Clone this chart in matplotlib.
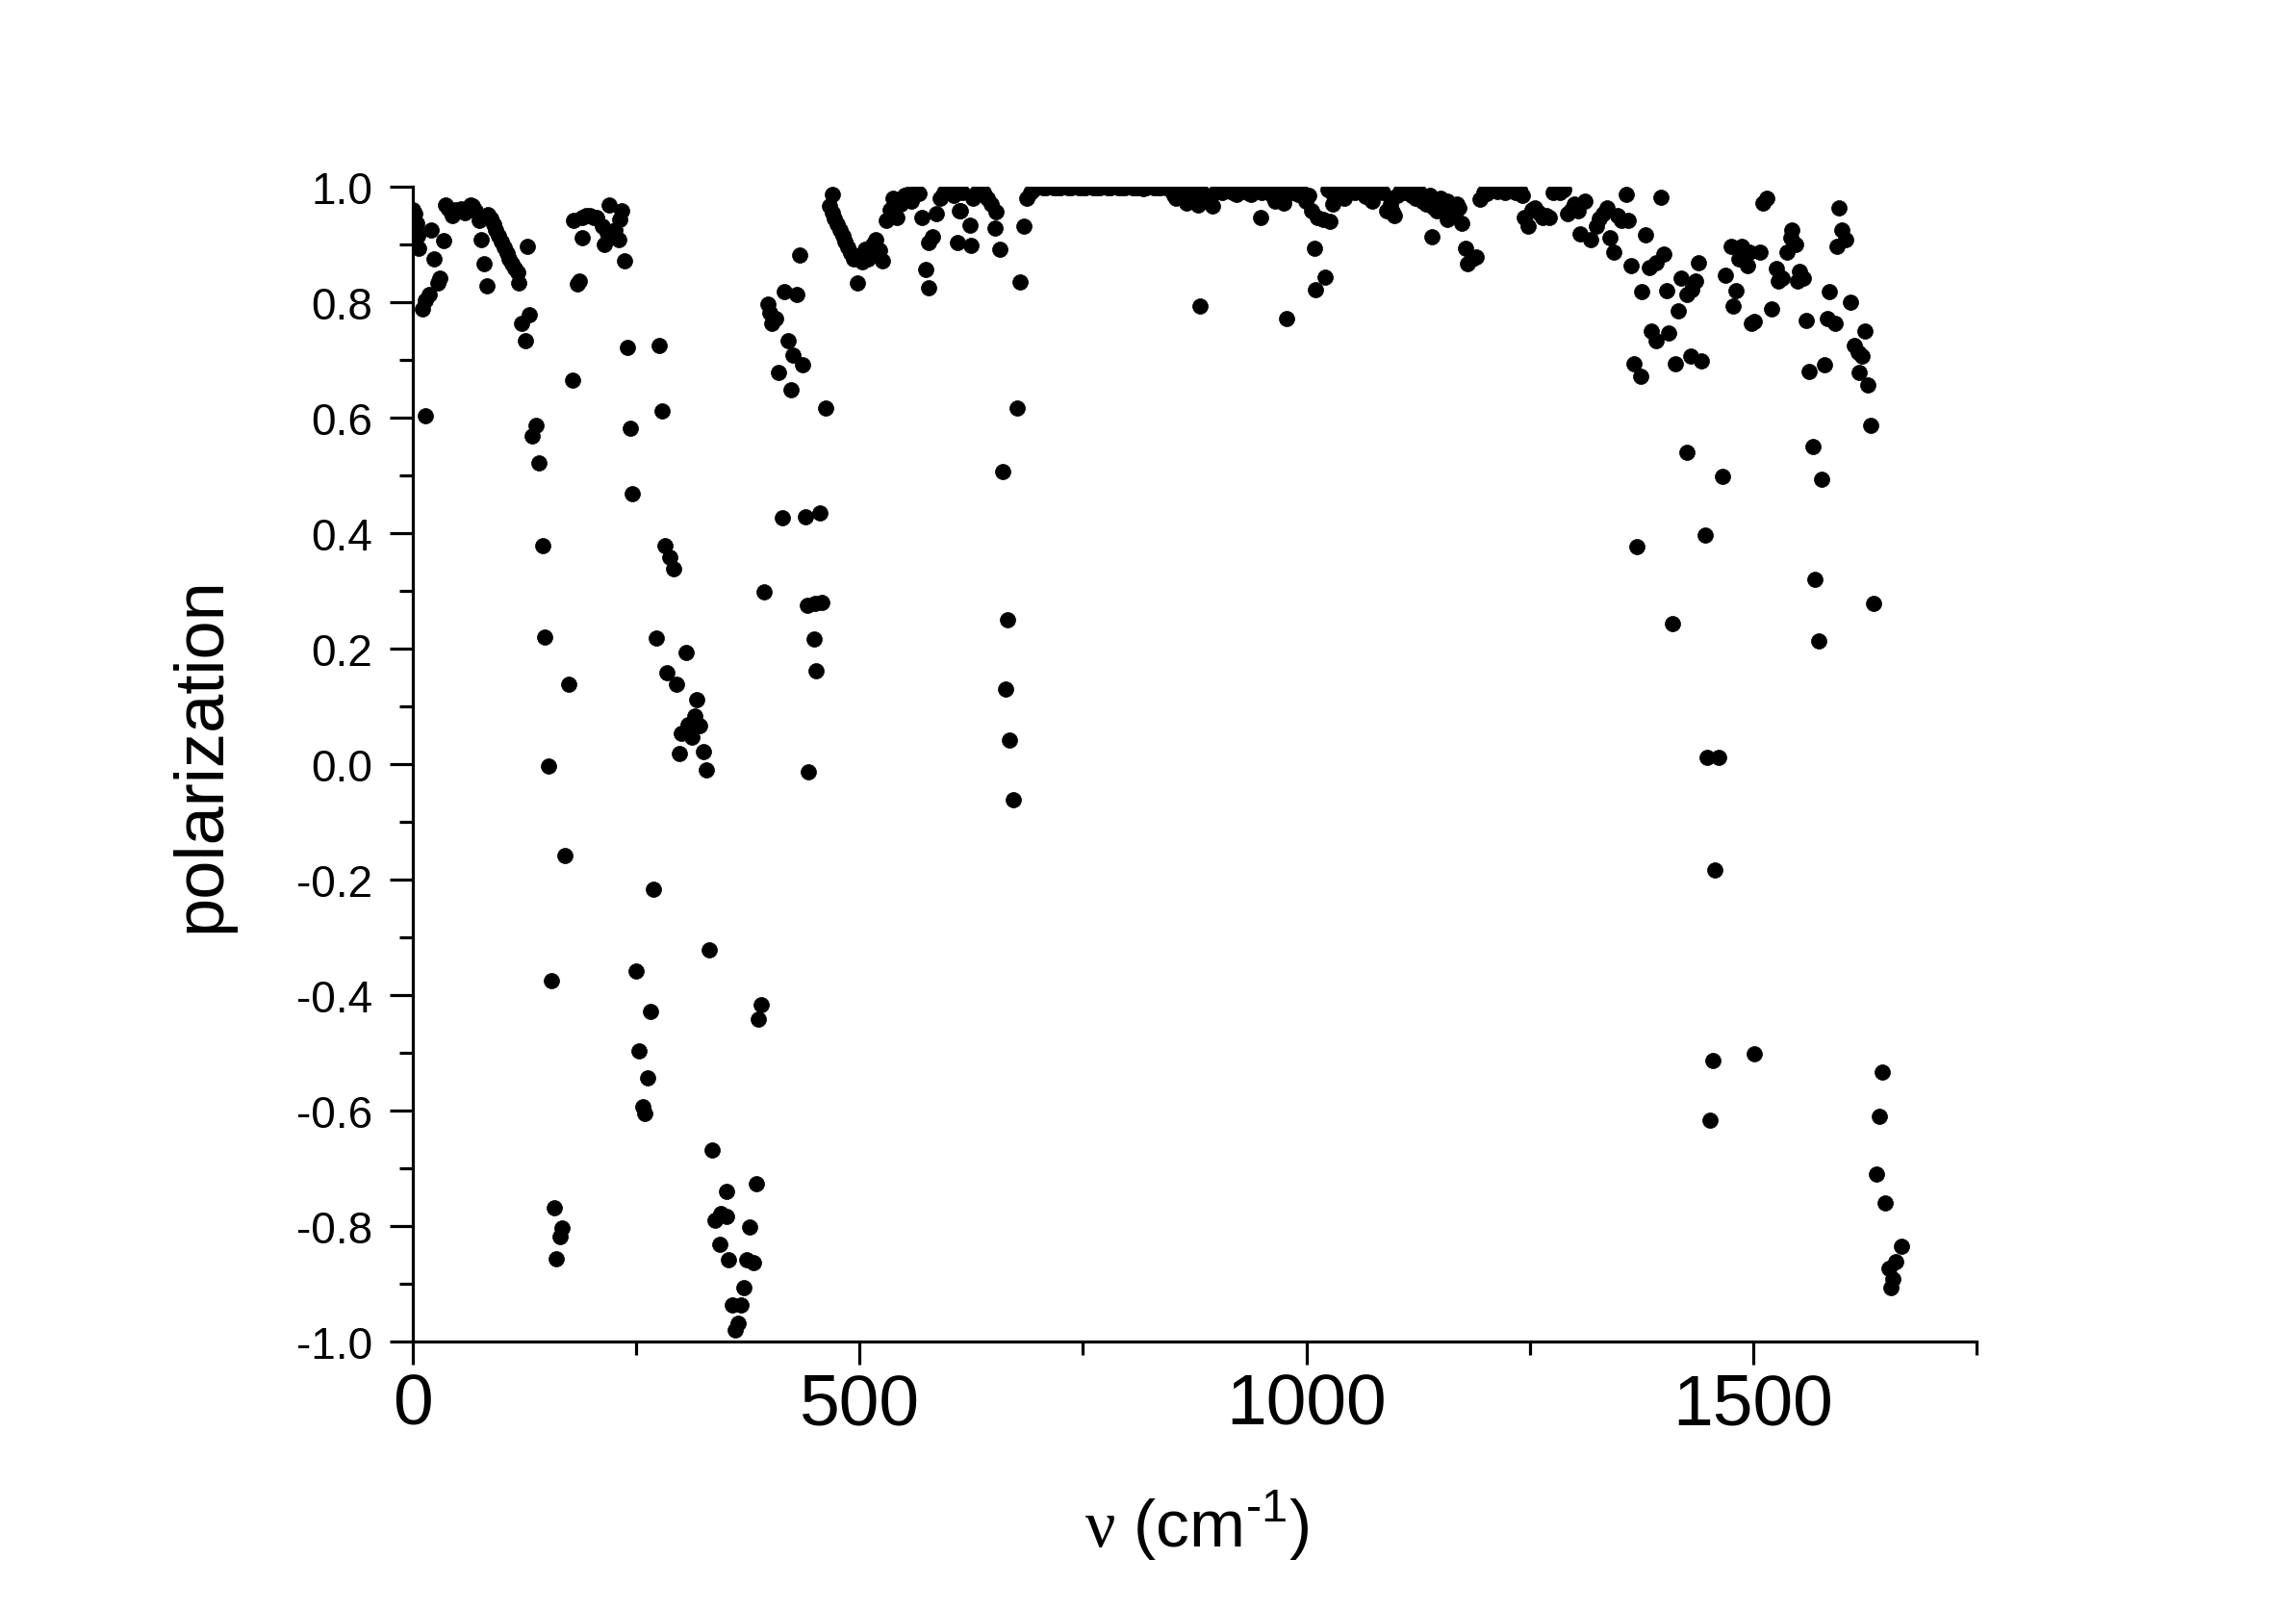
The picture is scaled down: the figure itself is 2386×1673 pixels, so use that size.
import matplotlib
matplotlib.use("Agg")
import matplotlib.pyplot as plt
from matplotlib.ticker import MultipleLocator, FormatStrFormatter

plt.rcParams['font.family'] = ['Liberation Sans', 'DejaVu Sans']
plt.rcParams['axes.unicode_minus'] = False
plt.rcParams['mathtext.fontset'] = 'custom'
plt.rcParams['mathtext.rm'] = 'Liberation Serif'
plt.rcParams['mathtext.sf'] = 'Liberation Sans'

# wavenumber (cm-1) and polarization
nu = [0.5, 1.5, 2.3, 3, 4, 5, 6.3, 10.3, 14.3, 14.3, 18.2, 20.2, 24.2, 28, 30.2, 34.2,
      36.2, 40, 44.2, 47, 50.2, 54, 58.2, 62, 64.2, 67, 70.2, 74.2, 76.2, 80.1, 83,
      84, 87, 90, 93, 96, 99, 102, 105, 108, 111, 114, 117, 118, 122, 126, 128, 130,
      134, 138, 141.4, 145.3, 148, 151.8, 155.5, 158, 160.9, 164.5, 167.4, 170.4, 174, 178.8,
      180, 184, 186, 190, 190, 194, 198, 202, 206, 212, 214, 218, 220, 222, 226, 230,
      232, 234, 237, 240, 243, 246, 249.7, 253, 257, 260, 263, 266.2, 269.1, 272.4,
      276, 279, 282, 284.8, 288, 292, 295, 298.5, 300.1, 305.5, 308.4, 312.5, 315.9,
      318, 320.8, 325, 328.3, 331.5, 334.4, 337.6, 344, 344.8, 351, 351, 353.6, 357,
      360.5, 363.5, 367, 370.4, 373.4, 377, 381.6, 384, 387, 390.2, 393.5,
      397.8, 399.8, 401.8, 405.8, 409, 413.8, 415.8, 419.8, 423, 425.8, 429.7, 433,
      435.8, 439.7, 441.7, 442.7, 449, 449.7, 451.4, 455.7, 457.7, 461.7,
      466, 469.6, 469, 472, 475, 478, 481, 484, 487, 490, 493.7, 497.6, 500, 503, 506,
      509.6, 512, 515, 518, 522, 526,
      530, 534, 537.6, 541.6, 546, 550, 554, 558, 562, 566, 569.6, 573.6, 576.8, 577.6,
      581.6, 585.6, 589.6, 594, 598, 601.6, 605, 609.6, 611.6, 613, 615,
      623, 625, 627, 631, 635, 639, 643, 647, 651, 653, 657, 660.5, 663, 666, 668,
      671.6, 676.5, 680, 683.7, 687, 691, 695,
      697, 701, 705, 709, 713, 717, 721, 725, 729, 733, 737, 741, 745, 749, 753, 757,
      761, 765, 769, 773, 777, 781, 785, 789, 793, 797, 801, 805, 809, 813, 817, 821,
      825, 829, 833, 837, 841, 845, 849,
      852, 854, 858, 862, 866, 870, 874, 878.7, 880.7, 883, 887, 891, 894.6, 898,
      902, 906, 910, 914, 918, 922, 926, 930, 934, 938, 942, 946, 948.6, 950, 954, 958,
      962, 964.6, 968, 972, 975, 977.8, 980, 984, 988, 991, 995, 999, 1003,
      1006, 1008.5, 1010.5, 1012, 1018.6, 1020.5, 1026,
      1024, 1028, 1030, 1034, 1038, 1042, 1046, 1050, 1054, 1058, 1062, 1066, 1070, 1074,
      1078, 1082, 1086, 1090, 1094, 1096, 1098, 1102, 1106, 1110, 1114, 1118, 1122, 1126,
      1130, 1134, 1138, 1140.4, 1142, 1146, 1150, 1154, 1158, 1158, 1162, 1166, 1168, 1170,
      1174, 1178.3, 1180, 1186, 1190, 1194, 1198, 1202, 1206, 1210, 1214, 1218, 1222,
      1226, 1230, 1234, 1238, 1242,
      1244, 1247.7, 1252, 1256, 1260, 1264, 1268, 1272, 1276, 1280, 1284, 1288, 1292,
      1296, 1300, 1304, 1306, 1312, 1318, 1324, 1328, 1332, 1336, 1340, 1344, 1348, 1352,
      1358, 1360, 1363.6, 1367, 1369.8, 1373.6, 1375.6, 1379.6, 1383.6, 1385.6, 1390.8,
      1391.6, 1396.5, 1399.6, 1402.8, 1405.6, 1409.8, 1412.8, 1415.6, 1418.8, 1425.6,
      1425.6, 1429.6, 1431.6, 1435.6, 1438.4, 1441.6, 1445.7,
      1448, 1452, 1455, 1456.5, 1461, 1465.5, 1468.5, 1475.6, 1477.3, 1480.5, 1483.6,
      1487.6, 1493.6, 1495.6, 1497.6, 1501.3, 1501.6, 1507.6, 1510.8, 1514.8, 1520.4,
      1526, 1528, 1530, 1532, 1537.6, 1541.6, 1543.6, 1547.6, 1549.6, 1551.6, 1555.6,
      1559.6, 1562.8, 1566.4, 1569, 1573.8, 1576.4, 1579.6, 1583.5, 1585.6, 1591.5,
      1593.4, 1595.4, 1598.6, 1603.4, 1608.3, 1613.4, 1617.4, 1618.7, 1621.5, 1625.3,
      1628.3, 1631.5, 1634.7, 1638.3, 1641.4, 1644.5, 1648, 1652.4, 1653.7, 1656, 1659,
      1665.6]

pol = [0.96, 0.945, 0.953, 0.93, 0.936, 0.915, 0.894, 0.789, 0.803, 0.603, 0.814, 0.925,
       0.875, 0.833, 0.842, 0.906,
       0.969, 0.962, 0.95, 0.96, 0.958, 0.962, 0.955, 0.962, 0.969, 0.966, 0.958, 0.942,
       0.908, 0.867, 0.828,
       0.951, 0.945, 0.935, 0.925, 0.915, 0.905, 0.895, 0.885, 0.875, 0.866, 0.858,
       0.852, 0.833, 0.764, 0.733, 0.897, 0.778,
       0.569, 0.586, 0.522, 0.379, 0.22, -0.004, -0.375, -0.768, -0.856, -0.819, -0.803,
       -0.158, 0.138, 0.665,
       0.942, 0.831, 0.836, 0.947, 0.911, 0.95, 0.95, 0.946, 0.947, 0.931, 0.9, 0.92,
       0.969, 0.914, 0.925, 0.908,
       0.944, 0.958, 0.872, 0.722, 0.582, 0.468, -0.358, -0.497, -0.594, -0.605, -0.544,
       -0.428, -0.217, 0.219,
       0.725, 0.611, 0.378, 0.158, 0.358, 0.339, 0.139, 0.019, 0.053, 0.193, 0.069,
       0.047, 0.083,
       0.112, 0.067, 0.022, -0.01, -0.321, -0.668, -0.79, -0.832, -0.778, -0.783, -0.74,
       -0.859, -0.937,
       -0.98, -0.969, -0.937, -0.906, -0.859, -0.802, -0.864, -0.726, -0.441, -0.417, 0.298,
       0.797, 0.781, 0.764, 0.772, 0.679, 0.426, 0.819, 0.733, 0.648, 0.708, 0.814, 0.881,
       0.692, 0.428, 0.275, -0.013, 0.217, 0.278, 0.161, 0.435, 0.28, 0.617,
       0.967, 0.986, 0.955, 0.945, 0.935, 0.925, 0.915, 0.905, 0.895, 0.885, 0.875, 0.833,
       0.88, 0.87, 0.892,
       0.875, 0.885, 0.9, 0.908, 0.89, 0.872,
       0.942, 0.96, 0.98, 0.947, 0.97, 0.985, 0.986, 0.975, 0.99, 0.989, 0.947, 0.856,
       0.825, 0.903,
       0.914, 0.953, 0.98, 0.99, 0.995, 0.992, 0.985, 0.903, 0.958, 0.958, 0.99,
       0.933, 0.898, 0.98, 0.99, 0.989, 0.99, 0.98, 0.97, 0.928, 0.956, 0.892, 0.507,
       0.13, 0.25, 0.042,
       -0.062, 0.617, 0.835, 0.931, 0.98, 0.99, 0.995,
       0.998, 1.0, 0.999, 0.998, 1.0, 0.999, 0.998, 0.999, 1.0, 0.998, 0.999, 1.0, 0.999,
       0.998, 0.999, 1.0, 0.998, 0.999, 0.999, 1.0, 0.998, 0.999, 1.0, 0.999, 0.998,
       0.999, 1.0, 0.999, 0.998, 0.999, 0.997, 0.998, 1.0, 0.999, 0.998, 0.999, 1.0,
       0.997, 0.995,
       0.985, 0.98, 0.99, 0.985, 0.972, 0.99, 0.995, 0.969, 0.794, 0.99, 0.985, 0.975,
       0.967, 0.99,
       0.995, 0.99, 0.998, 0.995, 0.99, 0.986, 0.995, 0.998, 0.99, 0.986, 0.995, 0.998,
       0.947, 0.99, 0.995, 0.99,
       0.985, 0.975, 0.99, 0.995, 0.972, 0.771, 0.995, 0.99, 0.995, 0.986, 0.99, 0.975,
       0.985,
       0.958, 0.894, 0.822, 0.946, 0.944, 0.843, 0.94,
       0.995, 0.99, 0.97, 0.995, 0.99, 0.98, 0.995, 0.998, 0.99, 0.995, 0.99, 0.983,
       0.995, 0.975,
       0.99, 0.995, 0.99, 0.958, 0.97, 0.956, 0.95, 0.985, 0.995, 0.99, 0.995, 0.985,
       0.98, 0.99,
       0.975, 0.97, 0.985, 0.914, 0.965, 0.958, 0.98, 0.97, 0.975, 0.944, 0.965, 0.955,
       0.97, 0.964,
       0.936, 0.894, 0.867, 0.875, 0.878, 0.978, 0.99, 0.989, 0.995, 0.998, 0.992, 0.995,
       0.99,
       0.998, 0.995, 0.99, 0.995, 0.985,
       0.947, 0.931, 0.96, 0.964, 0.955, 0.947, 0.95, 0.947, 0.99, 0.995, 0.99, 0.995,
       0.953,
       0.96, 0.97, 0.958, 0.919, 0.975, 0.908, 0.931, 0.945, 0.953, 0.964, 0.911, 0.886,
       0.95, 0.942,
       0.986, 0.942, 0.864, 0.694, 0.376, 0.672, 0.819, 0.917, 0.86, 0.75, 0.734,
       0.869, 0.981, 0.883, 0.82, 0.747, 0.243, 0.694, 0.785, 0.842, 0.814,
       0.54, 0.706, 0.822, 0.836, 0.868, 0.699, 0.397,
       0.011, -0.617, -0.514, -0.184, 0.011, 0.498, 0.847, 0.897, 0.794, 0.82, 0.875,
       0.897, 0.864, 0.886, 0.764, -0.501, 0.767, 0.886, 0.972, 0.98, 0.788,
       0.858, 0.836, 0.844, 0.842, 0.886, 0.911, 0.925, 0.9, 0.836, 0.853, 0.842,
       0.769, 0.68, 0.55, 0.32, 0.214, 0.494, 0.691, 0.772, 0.819, 0.764,
       0.896, 0.964, 0.925, 0.908, 0.8, 0.725, 0.714, 0.678, 0.706, 0.75,
       0.657, 0.586, 0.279, -0.71, -0.61, -0.533, -0.76, -0.874, -0.906, -0.891, -0.862,
       -0.835]

x_major = [0, 500, 1000, 1500]
y_major = [-1.0, -0.8, -0.6, -0.4, -0.2, 0.0, 0.2, 0.4, 0.6, 0.8, 1.0]

fig = plt.figure(figsize=(23.86, 16.74), dpi=100)
ax = fig.add_axes([0.1798, 0.1667, 0.6811, 0.7168])

ax.plot(nu, pol, 'o', color='black', ms=11.5, mec='black', mew=0.5)

ax.set_xlim(0, 1750)
ax.set_ylim(-1.0, 1.0)
ax.set_xticks(x_major)
ax.set_yticks(y_major)
ax.xaxis.set_minor_locator(MultipleLocator(250))
ax.yaxis.set_minor_locator(MultipleLocator(0.1))
ax.yaxis.set_major_formatter(FormatStrFormatter('%.1f'))

ax.spines['top'].set_visible(False)
ax.spines['right'].set_visible(False)
for s in ['left', 'bottom']:
    ax.spines[s].set_linewidth(2.3)

ax.tick_params(axis='both', which='major', direction='out', length=17, width=2.3)
ax.tick_params(axis='both', which='minor', direction='out', length=10, width=2.3)
ax.tick_params(axis='x', which='major', labelsize=54, pad=6)
ax.tick_params(axis='y', which='major', labelsize=33, pad=13)

ax.text(0.501, -0.1775, '$\\mathrm{\\nu}$ (cm$^{\\mathsf{\u20101}}$)', transform=ax.transAxes,
        ha='center', va='baseline', fontsize=50)
ax.text(-0.1237, 0.509, 'polarization', transform=ax.transAxes, rotation=90,
        rotation_mode='anchor', ha='center', va='baseline', fontsize=52)

fig.savefig('out.png', dpi=100)
